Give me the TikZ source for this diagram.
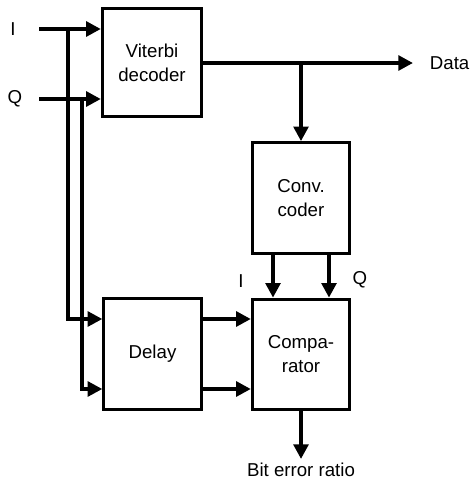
\documentclass[tikz,border=0pt]{standalone}
\usepackage{fontspec}
\setmainfont{Liberation Sans}
\usetikzlibrary{arrows.meta}
\begin{document}
\begin{tikzpicture}[x=0.75pt,y=-0.75pt,
  font=\fontsize{14}{18}\selectfont,
  blk/.style={draw,line width=2.25pt,minimum width=73pt,minimum height=83pt,align=center,inner sep=0pt},
  arr/.style={line width=3pt,-{Triangle[length=11pt,width=11pt]}},
  wire/.style={line width=3pt},
  lbl/.style={inner sep=0pt}]
\useasboundingbox (0,0) rectangle (470,482);
% blocks
\node[blk,minimum width=74.5pt,minimum height=81pt] (vit) at (152,62.5) {Viterbi\\decoder};
\node[blk] (conv) at (301,198) {Conv.\\coder};
\node[blk] (delay) at (152.5,354) {Delay};
\node[blk] (comp) at (301,354.5) {Compa-\\rator};
% labels
\node[lbl] (Ilab) at (13,29) {I};
\node[lbl] (Qlab) at (15,99) {Q};
\node[lbl,anchor=west,inner xsep=12.5pt] (data) at (413,63) {Data};
\node[inner sep=3pt,anchor=north] (ber) at (301,459) {Bit error ratio};
\node[lbl] (cI) at (241,281) {I};
\node[lbl] (cQ) at (360,280) {Q};
% helper coordinates
\coordinate (inI) at (39,29);
\coordinate (inQ) at (39,99);
\coordinate (j1) at (68,29);
\coordinate (j2) at (82,99);
\coordinate (yA) at (0,319);
\coordinate (yB) at (0,389);
\coordinate (yD) at (0,63);
\coordinate (tap) at (301,63);
\coordinate (xI) at (273,0);
\coordinate (xQ) at (329,0);
% connectors
\draw[arr] (inI) -- (vit.west |- inI);
\draw[arr] (inQ) -- (vit.west |- inQ);
\draw[arr] (j1) |- (delay.west |- yA);
\draw[arr] (j2) |- (delay.west |- yB);
\draw[arr] (vit.east |- yD) -- (data.west);
\draw[arr] (tap) -- (conv.north);
\draw[arr] (conv.south -| xI) -- (comp.north -| xI);
\draw[arr] (conv.south -| xQ) -- (comp.north -| xQ);
\draw[arr] (delay.east |- yA) -- (comp.west |- yA);
\draw[arr] (delay.east |- yB) -- (comp.west |- yB);
\draw[arr] (comp.south) -- (ber.north);
\end{tikzpicture}
\end{document}
